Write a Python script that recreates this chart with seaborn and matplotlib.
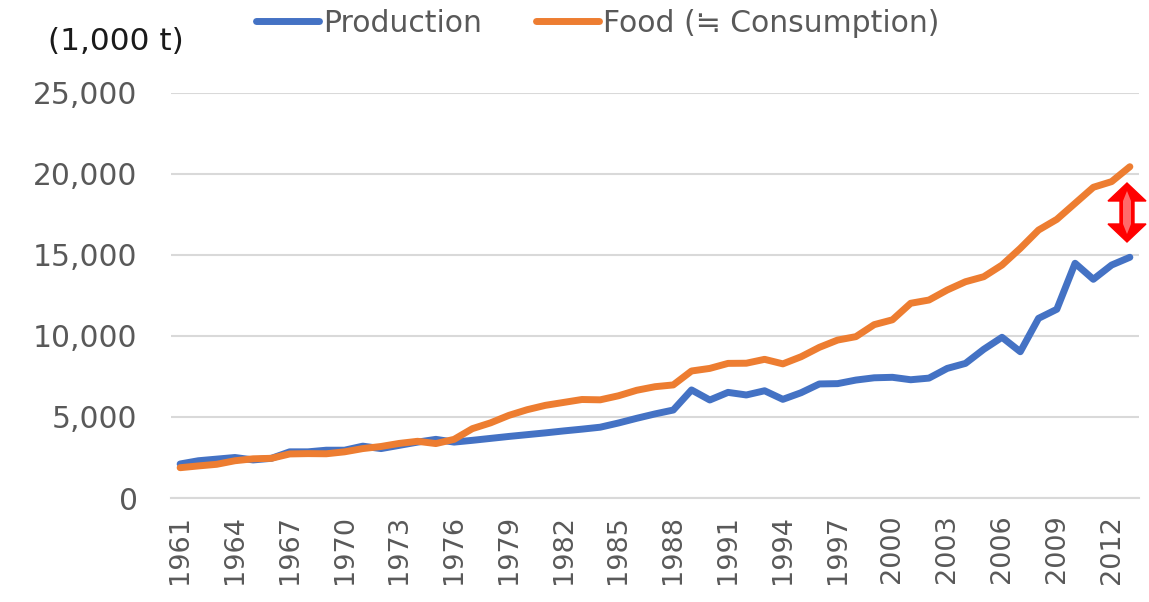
import matplotlib
matplotlib.use("Agg")
import matplotlib.pyplot as plt
import matplotlib.patches as mpatches
from matplotlib.lines import Line2D
import seaborn as sns
import pandas as pd

years = list(range(1961, 2014))
production = [2100, 2300, 2400, 2500, 2350, 2450, 2850, 2850, 2950, 2950,
              3200, 3050, 3250, 3450, 3620, 3450, 3560, 3680, 3800, 3910,
              4020, 4140, 4250, 4370, 4630, 4920, 5190, 5430, 6670, 6050,
              6520, 6360, 6620, 6090, 6500, 7040, 7060, 7280, 7420, 7450,
              7300, 7400, 8000, 8310, 9180, 9920, 9030, 11090, 11650, 14490,
              13500, 14380, 14860]
food = [1870, 1980, 2080, 2300, 2420, 2450, 2720, 2740, 2730, 2850,
        3050, 3180, 3370, 3500, 3360, 3620, 4280, 4640, 5100, 5450,
        5720, 5900, 6080, 6060, 6310, 6650, 6870, 6980, 7840, 8000,
        8310, 8320, 8560, 8280, 8720, 9300, 9750, 9960, 10700, 11000,
        12020, 12220, 12840, 13350, 13660, 14380, 15410, 16540, 17200, 18190,
        19180, 19530, 20450]
series_names = ["Production", "Food (≒ Consumption)"]
colors = ["#4472C4", "#ED7D31"]
y_ticks = [0, 5000, 10000, 15000, 20000, 25000]
unit_label = "(1,000 t)"

sns.set_theme(style="white")
plt.rcParams['font.family'] = ['DejaVu Sans', 'Noto Sans CJK JP']

df = pd.DataFrame({
    "year": years * 2,
    "value": production + food,
    "series": [series_names[0]] * len(years) + [series_names[1]] * len(years),
})

W, H = 1149, 602
fig = plt.figure(figsize=(W / 100, H / 100), dpi=100)
ax = fig.add_axes([171 / W, 1 - 498 / H, (1139 - 171) / W, (498 - 93) / H])

sns.lineplot(data=df, x="year", y="value", hue="series", palette=colors,
             hue_order=series_names, linewidth=5, legend=False, ax=ax,
             solid_capstyle="round", solid_joinstyle="round", zorder=3)

ax.set_xlim(years[0] - 0.5, years[-1] + 0.5)
ax.set_ylim(0, 25000)
ax.set_yticks(y_ticks)
ax.set_yticklabels([f"{v:,}" for v in y_ticks])
xt = years[::3]
ax.set_xticks(xt)
ax.set_xticklabels([str(y) for y in xt], rotation=90)
ax.set_xlabel("")
ax.set_ylabel("")

ax.grid(axis="y", color="#D9D9D9", linewidth=1.5, zorder=0)
ax.grid(axis="x", visible=False)
for s in ["top", "right", "left"]:
    ax.spines[s].set_visible(False)
ax.spines["bottom"].set_color("#D9D9D9")
ax.spines["bottom"].set_linewidth(1.5)
ax.tick_params(axis="y", length=0, pad=24, labelsize=21.4, labelcolor="#595959")
ax.tick_params(axis="x", length=0, pad=12, labelsize=19.5, labelcolor="#595959")

handles = [Line2D([0], [0], color=c, lw=5, solid_capstyle="round") for c in colors]
fig.legend(handles, series_names, loc="center left",
           bbox_to_anchor=(256 / W, 1 - 23 / H), ncol=2, frameon=False,
           fontsize=21.5, handlelength=2.1, handletextpad=0.15,
           columnspacing=1.8, borderpad=0, borderaxespad=0,
           labelcolor="#595959")

fig.text(116 / W, 1 - 42 / H, unit_label, ha="center", va="center",
         fontsize=22.5, color="#1a1a1a")

# red double-headed arrow annotation
c, top, hb1, hb2, bot = 1127, 183, 201, 224, 242
hw, sw = 19, 7
pts = [(c, top), (c + hw, hb1), (c + sw, hb1), (c + sw, hb2), (c + hw, hb2),
       (c, bot), (c - hw, hb2), (c - sw, hb2), (c - sw, hb1), (c - hw, hb1)]
poly = mpatches.Polygon([(x / W, 1 - y / H) for x, y in pts], closed=True,
                        transform=fig.transFigure, facecolor="#FF0000",
                        edgecolor="#FF0000", lw=1, zorder=5)
fig.patches.append(poly)
inner = [(c, top + 8), (c + 4, hb1), (c + 4, hb2), (c, bot - 8), (c - 4, hb2), (c - 4, hb1)]
poly2 = mpatches.Polygon([(x / W, 1 - y / H) for x, y in inner], closed=True,
                         transform=fig.transFigure, facecolor="#FF6B6B",
                         edgecolor="none", zorder=6)
fig.patches.append(poly2)

fig.savefig("out.png", dpi=100)
